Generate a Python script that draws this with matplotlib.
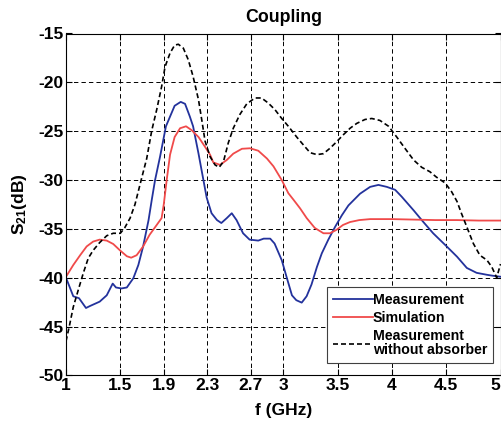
import matplotlib
matplotlib.use("Agg")
import matplotlib.pyplot as plt

plt.rcParams['font.family'] = ['Liberation Sans', 'DejaVu Sans']
plt.rcParams['mathtext.fontset'] = 'custom'
plt.rcParams['mathtext.bf'] = 'Liberation Sans:bold'
plt.rcParams['mathtext.rm'] = 'Liberation Sans:bold'

# ---- data ----
meas_f = [1.0, 1.067, 1.12, 1.184, 1.22, 1.31, 1.375, 1.43, 1.46, 1.51,
          1.56, 1.62, 1.666, 1.71, 1.76, 1.79, 1.82, 1.866, 1.92, 1.958,
          2.0, 2.056, 2.096, 2.14, 2.17, 2.22, 2.26, 2.295, 2.34, 2.39,
          2.43, 2.48, 2.526, 2.57, 2.63, 2.69, 2.77, 2.82, 2.88, 2.92,
          2.986, 3.03, 3.08, 3.12, 3.17, 3.215, 3.26, 3.31, 3.355, 3.415,
          3.477, 3.54, 3.6, 3.707, 3.8, 3.876, 3.953, 4.03, 4.09, 4.2,
          4.29, 4.38, 4.505, 4.6, 4.69, 4.78, 4.875, 4.93, 5.0]
meas_db = [-40.0, -41.9, -42.1, -43.1, -42.9, -42.45, -41.8, -40.6, -41.0, -41.1,
           -41.0, -40.05, -38.7, -36.8, -34.1, -32.0, -30.0, -27.6, -24.5, -23.5,
           -22.4, -22.0, -22.2, -23.5, -24.5, -27.3, -29.7, -31.8, -33.4, -34.1,
           -34.4, -33.9, -33.4, -34.1, -35.45, -36.1, -36.2, -36.0, -36.0, -36.5,
           -38.2, -39.9, -41.8, -42.3, -42.55, -41.9, -40.7, -38.9, -37.5, -36.1,
           -34.8, -33.6, -32.6, -31.4, -30.7, -30.5, -30.7, -31.0, -31.7, -33.1,
           -34.3, -35.45, -36.8, -37.85, -39.0, -39.5, -39.7, -39.8, -39.9]

sim_f = [1.0, 1.067, 1.13, 1.19, 1.25, 1.31, 1.375, 1.435, 1.497, 1.56,
         1.6, 1.65, 1.71, 1.77, 1.835, 1.88, 1.9, 1.927, 1.958, 2.0,
         2.05, 2.105, 2.157, 2.22, 2.28, 2.326, 2.356, 2.418, 2.48, 2.54,
         2.62, 2.694, 2.77, 2.85, 2.91, 2.986, 3.047, 3.093, 3.155, 3.216,
         3.29, 3.37, 3.43, 3.49, 3.55, 3.615, 3.7, 3.8, 4.0, 4.2,
         4.4, 4.6, 4.8, 5.0]
sim_db = [-39.9, -38.7, -37.7, -36.8, -36.3, -36.1, -36.2, -36.55, -37.2, -37.8,
          -37.95, -37.7, -36.8, -35.6, -34.6, -33.9, -32.5, -30.0, -27.4, -25.6,
          -24.7, -24.5, -24.9, -25.6, -26.6, -27.4, -28.2, -28.45, -27.95, -27.3,
          -26.8, -26.75, -27.0, -27.8, -28.6, -30.0, -31.35, -32.0, -32.9, -33.9,
          -34.9, -35.45, -35.45, -35.1, -34.6, -34.3, -34.1, -34.0, -34.0, -34.05,
          -34.1, -34.1, -34.15, -34.15]

noabs_f = [1.0, 1.03, 1.067, 1.113, 1.16, 1.205, 1.25, 1.31, 1.375, 1.435,
           1.5, 1.54, 1.59, 1.635, 1.70, 1.743, 1.79, 1.835, 1.88, 1.912,
           1.958, 2.0, 2.034, 2.08, 2.126, 2.17, 2.22, 2.25, 2.28, 2.326,
           2.372, 2.41, 2.45, 2.494, 2.54, 2.6, 2.664, 2.74, 2.8, 2.86,
           2.924, 2.986, 3.047, 3.124, 3.185, 3.247, 3.31, 3.37, 3.43, 3.49,
           3.55, 3.615, 3.677, 3.753, 3.815, 3.89, 3.97, 4.045, 4.12, 4.2,
           4.275, 4.35, 4.41, 4.49, 4.55, 4.6, 4.64, 4.69, 4.75, 4.81,
           4.875, 4.92, 4.965, 5.0]
noabs_db = [-46.5, -45.0, -43.0, -41.25, -39.5, -38.0, -37.2, -36.4, -35.7, -35.45,
            -35.45, -34.9, -33.9, -32.5, -29.65, -27.8, -24.9, -22.8, -20.45, -18.4,
            -17.0, -16.2, -16.1, -16.5, -17.7, -19.4, -21.8, -23.85, -26.0, -27.6,
            -28.45, -28.7, -28.1, -26.2, -24.7, -23.3, -22.2, -21.6, -21.6, -22.1,
            -22.8, -23.7, -24.5, -25.6, -26.4, -27.2, -27.4, -27.3, -26.75, -26.1,
            -25.4, -24.7, -24.2, -23.8, -23.7, -23.9, -24.5, -25.6, -26.75, -27.95,
            -28.7, -29.15, -29.7, -30.3, -31.2, -32.2, -33.4, -34.8, -36.5, -37.7,
            -38.2, -38.9, -40.0, -38.6]

x_ticks = [1, 1.5, 1.9, 2.3, 2.7, 3, 3.5, 4, 4.5, 5]
x_tick_labels = ['1', '1.5', '1.9', '2.3', '2.7', '3', '3.5', '4', '4.5', '5']
y_ticks = [-50, -45, -40, -35, -30, -25, -20, -15]
y_tick_labels = ['-50', '-45', '-40', '-35', '-30', '-25', '-20', '-15']
labels = ['Measurement', 'Simulation', 'Measurement\nwithout absorber']

# ---- figure ----
fig = plt.figure(figsize=(5.01, 4.24), dpi=100)
ax = fig.add_axes([66 / 501, 1 - 375.4 / 424, 434.5 / 501, (375.4 - 33.5) / 424])

ax.plot(meas_f, meas_db, color='#23329c', lw=1.3, label=labels[0])
ax.plot(sim_f, sim_db, color='#f04a4a', lw=1.3, label=labels[1])
ax.plot(noabs_f, noabs_db, color='black', lw=1.2, dashes=(3, 1.8), label=labels[2])

ax.set_xlim(1, 5)
ax.set_ylim(-50, -15)
ax.set_xticks(x_ticks)
ax.set_xticklabels(x_tick_labels)
ax.set_yticks(y_ticks)
ax.set_yticklabels(y_tick_labels)
ax.tick_params(direction='in', length=4, width=0.8, labelsize=12.5, pad=2,
               top=True, right=True)
for t in ax.get_xticklabels() + ax.get_yticklabels():
    t.set_fontweight('bold')
# keep the last x label inside the figure edge
ax.get_xticklabels()[-1].set_horizontalalignment('right')

ax.grid(True, color='black', lw=0.7, dashes=(4.5, 3.2))
for s in ax.spines.values():
    s.set_linewidth(0.8)
    s.set_color('black')

ax.text(0.5, 1 + 11 / 341.9, 'Coupling', transform=ax.transAxes, ha='center',
        va='baseline', fontsize=12.8, fontweight='bold')
ax.set_xlabel('f (GHz)', fontsize=12.5, fontweight='bold', va='center')
ax.xaxis.set_label_coords(0.5, -0.104)
ax.set_ylabel(r'$\mathbf{S_{21}}$(dB)', fontsize=12.5, fontweight='bold', va='center')
ax.yaxis.set_label_coords(-0.107, 0.50)

leg = ax.legend(loc='upper right', bbox_to_anchor=(0.982, 0.2577), borderaxespad=0,
                prop={'weight': 'bold', 'size': 10.2}, handlelength=2.8,
                handletextpad=0.0, borderpad=0.4, labelspacing=0.3,
                fancybox=False, framealpha=1, edgecolor='#404040')
leg.get_frame().set_linewidth(0.8)
for t in leg.get_texts():
    t.set_linespacing(1.0)

fig.savefig('out.png', dpi=100)
